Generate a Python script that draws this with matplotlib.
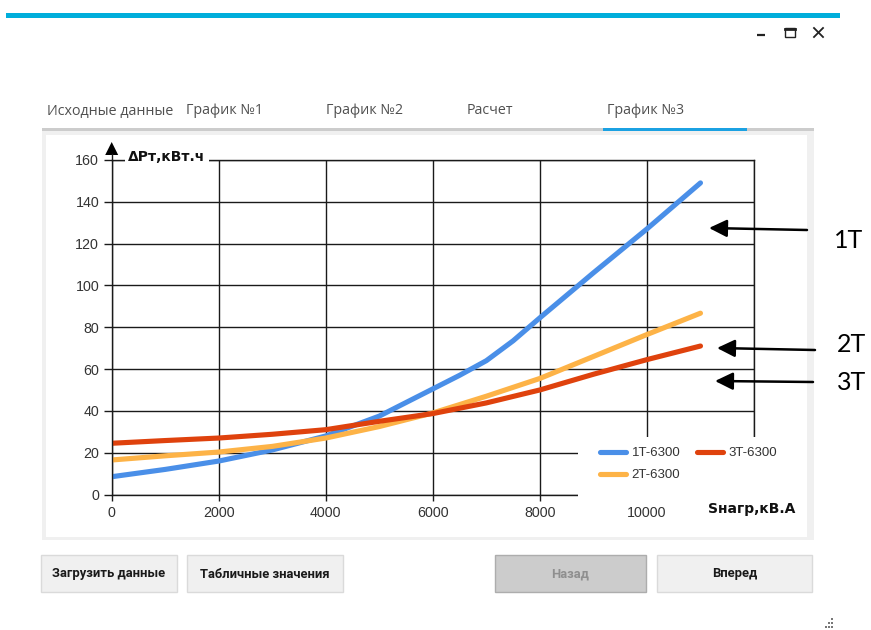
import matplotlib
matplotlib.use("Agg")
import matplotlib.pyplot as plt
from matplotlib.patches import Rectangle, Polygon

# ---------------- data ----------------
S_1T = [0, 1000, 2000, 3000, 4000, 5000, 5500, 6000, 6500, 7000, 7500, 8000, 9000, 10000, 11000]
p_1T = [8.5, 12, 16, 21.3, 28, 37.5, 44, 50.5, 57, 64, 73.5, 84.5, 106, 127, 149]
S = [0, 1000, 2000, 3000, 4000, 5000, 6000, 7000, 8000, 9000, 10000, 11000]
p_2T = [16.5, 18.5, 20.3, 23, 27, 32.5, 39, 47, 55.5, 66, 76.5, 86.7]
p_3T = [24.5, 25.8, 27, 28.8, 31, 35, 38.7, 43.8, 50, 57.5, 64.5, 71]
series_names = ["1T-6300", "2T-6300", "3T-6300"]
x_ticks = [0, 2000, 4000, 6000, 8000, 10000, 12000]
x_ticklabels = ["0", "2000", "4000", "6000", "8000", "10000", ""]
y_ticks = [0, 20, 40, 60, 80, 100, 120, 140, 160]
tabs = ["Исходные данные", "График №1", "График №2", "Расчет", "График №3"]
buttons = ["Загрузить данные", "Табличные значения", "Назад", "Вперед"]
notes = ["1T", "2T", "3T"]

W, H = 871, 630
fig = plt.figure(figsize=(W / 100, H / 100), dpi=100)
fig.patch.set_facecolor("white")

def fx(x):
    return x / W

def fy(y):
    return 1 - y / H

# background overlay in pixel coordinates
bg = fig.add_axes([0, 0, 1, 1], zorder=0)
bg.set_xlim(0, W); bg.set_ylim(H, 0); bg.axis("off")

# top blue bar
bg.add_patch(Rectangle((6, 13), 834, 5, facecolor="#00AEDB", edgecolor="none"))
# window controls
bg.plot([757, 765], [35, 35], color="#222", lw=1.6, solid_capstyle="butt")
bg.add_patch(Rectangle((785, 28), 10, 9, facecolor="none", edgecolor="#222", lw=1.0))
bg.plot([785, 795], [28.5, 28.5], color="#222", lw=2.0)
bg.plot([814, 823], [28, 37], color="#222", lw=1.3)
bg.plot([814, 823], [37, 28], color="#222", lw=1.3)

# tabs
tab_x = [47, 186, 326, 467, 607]
for t, x in zip(tabs, tab_x):
    bg.text(x, 111, t, fontsize=10.3, family="Open Sans", color="#505050",
            ha="left", va="center")
bg.add_patch(Rectangle((42, 128), 772, 3, facecolor="#CCCCCC", edgecolor="none"))
bg.add_patch(Rectangle((603, 128), 144, 3, facecolor="#1BA1E2", edgecolor="none"))

# chart panel
bg.add_patch(Rectangle((42, 131), 772, 409, facecolor="#F0F0F0", edgecolor="none"))
bg.add_patch(Rectangle((46, 135), 761, 402, facecolor="white", edgecolor="none"))

# buttons
btn_geom = [(41, 136), (187, 156), (495, 151), (657, 155)]
for (bx, bw), label in zip(btn_geom, buttons):
    disabled = label == "Назад"
    bg.add_patch(Rectangle((bx, 555), bw, 37,
                           facecolor="#CCCCCC" if disabled else "#F0F0F0",
                           edgecolor="#ADADAD" if disabled else "#DADADA", lw=1))
    bg.text(bx + bw / 2, 574, label, fontsize=9.4, family="Roboto",
            weight="bold", color="#8F8F8F" if disabled else "#1a1a1a",
            ha="center", va="center")
# resize grip
for (gx, gy) in [(832, 619), (829, 623), (832, 623), (826, 627), (829, 627), (832, 627)]:
    bg.add_patch(Rectangle((gx - 0.7, gy - 0.7), 1.4, 1.4, facecolor="#777", edgecolor="none"))

# ---------------- chart ----------------
x0, x1, y0, y1 = 111.7, 754.0, 494.5, 159.9
ax = fig.add_axes([fx(x0), fy(y0), (x1 - x0) / W, (y0 - y1) / H], zorder=1)
ax.patch.set_alpha(0)
ax.set_xlim(0, 12000)
ax.set_ylim(0, 160)

lw = 3.7
colors = ["#4A8FE8", "#FDB347", "#DF420D"]
for xs, vals, c, name in zip([S_1T, S, S], [p_1T, p_2T, p_3T], colors, series_names):
    ax.plot(xs, vals, color=c, lw=lw, solid_capstyle="round",
            solid_joinstyle="round", label=name, zorder=2)

ax.set_xticks(x_ticks)
ax.set_xticklabels(x_ticklabels)
ax.set_yticks(y_ticks)
ax.grid(True, color="#1a1a1a", lw=1.0)
for sp in ax.spines.values():
    sp.set_color("#1a1a1a"); sp.set_linewidth(1.0)
for lab in ax.get_xticklabels() + ax.get_yticklabels():
    lab.set_family("Liberation Sans")
ax.tick_params(axis="y", length=6, width=1, color="#1a1a1a", pad=3,
               labelsize=10.3, labelcolor="#333333")
ax.tick_params(axis="x", length=4, width=1, color="#1a1a1a", pad=4,
               labelsize=10.3, labelcolor="#333333")

# white legend area covering grid
ax.add_patch(Rectangle((578, 437), 185, 67, facecolor="white", edgecolor="none",
                       transform=bg.transData, clip_on=False, zorder=3))
leg = ax.legend(ncol=2, loc="upper left", bbox_to_anchor=(fx(600), fy(447)),
                bbox_transform=fig.transFigure, frameon=False, borderpad=0,
                borderaxespad=0, handlelength=1.95, handletextpad=0.45,
                columnspacing=1.25, labelspacing=0.75,
                prop={"family": "Liberation Sans", "size": 9.5})
for t in leg.get_texts():
    t.set_color("#333333")

# ---------------- foreground overlay ----------------
fg = fig.add_axes([0, 0, 1, 1], zorder=2)
fg.set_xlim(0, W); fg.set_ylim(H, 0); fg.axis("off")
fg.patch.set_alpha(0)

# y-axis arrow
fg.plot([x0, x0], [y1, 154], color="#1a1a1a", lw=1.0)
fg.add_patch(Polygon([[x0, 142], [x0 - 6.5, 155], [x0 + 6.5, 155]], closed=True,
                     facecolor="black", edgecolor="none"))
# axis titles
fg.text(128, 157, "ΔPт,кВт.ч", fontsize=10, weight="bold", family="DejaVu Sans",
        color="#111", ha="left", va="center",
        bbox=dict(boxstyle="square,pad=0.25", facecolor="white", edgecolor="none"))
fg.text(752, 509, "Sнагр,кВ.А", fontsize=10, weight="bold", family="DejaVu Sans",
        color="#111", ha="center", va="center")

# annotation arrows
arrows = [((709, 228), (807, 230), (849, 241)),
          ((717, 348), (815, 350), (851, 345)),
          ((715, 381), (813, 382), (852, 383))]
for note, (tip, tail, tpos) in zip(notes, arrows):
    fg.annotate("", xy=tip, xytext=tail,
                arrowprops=dict(arrowstyle="-|>,head_length=0.45,head_width=0.22",
                                color="black", lw=1.8, mutation_scale=24,
                                shrinkA=0, shrinkB=0))
    fg.text(tpos[0], tpos[1], note, fontsize=18, family="Lato", color="black",
            ha="center", va="center")

fig.savefig("out.png", dpi=100)
